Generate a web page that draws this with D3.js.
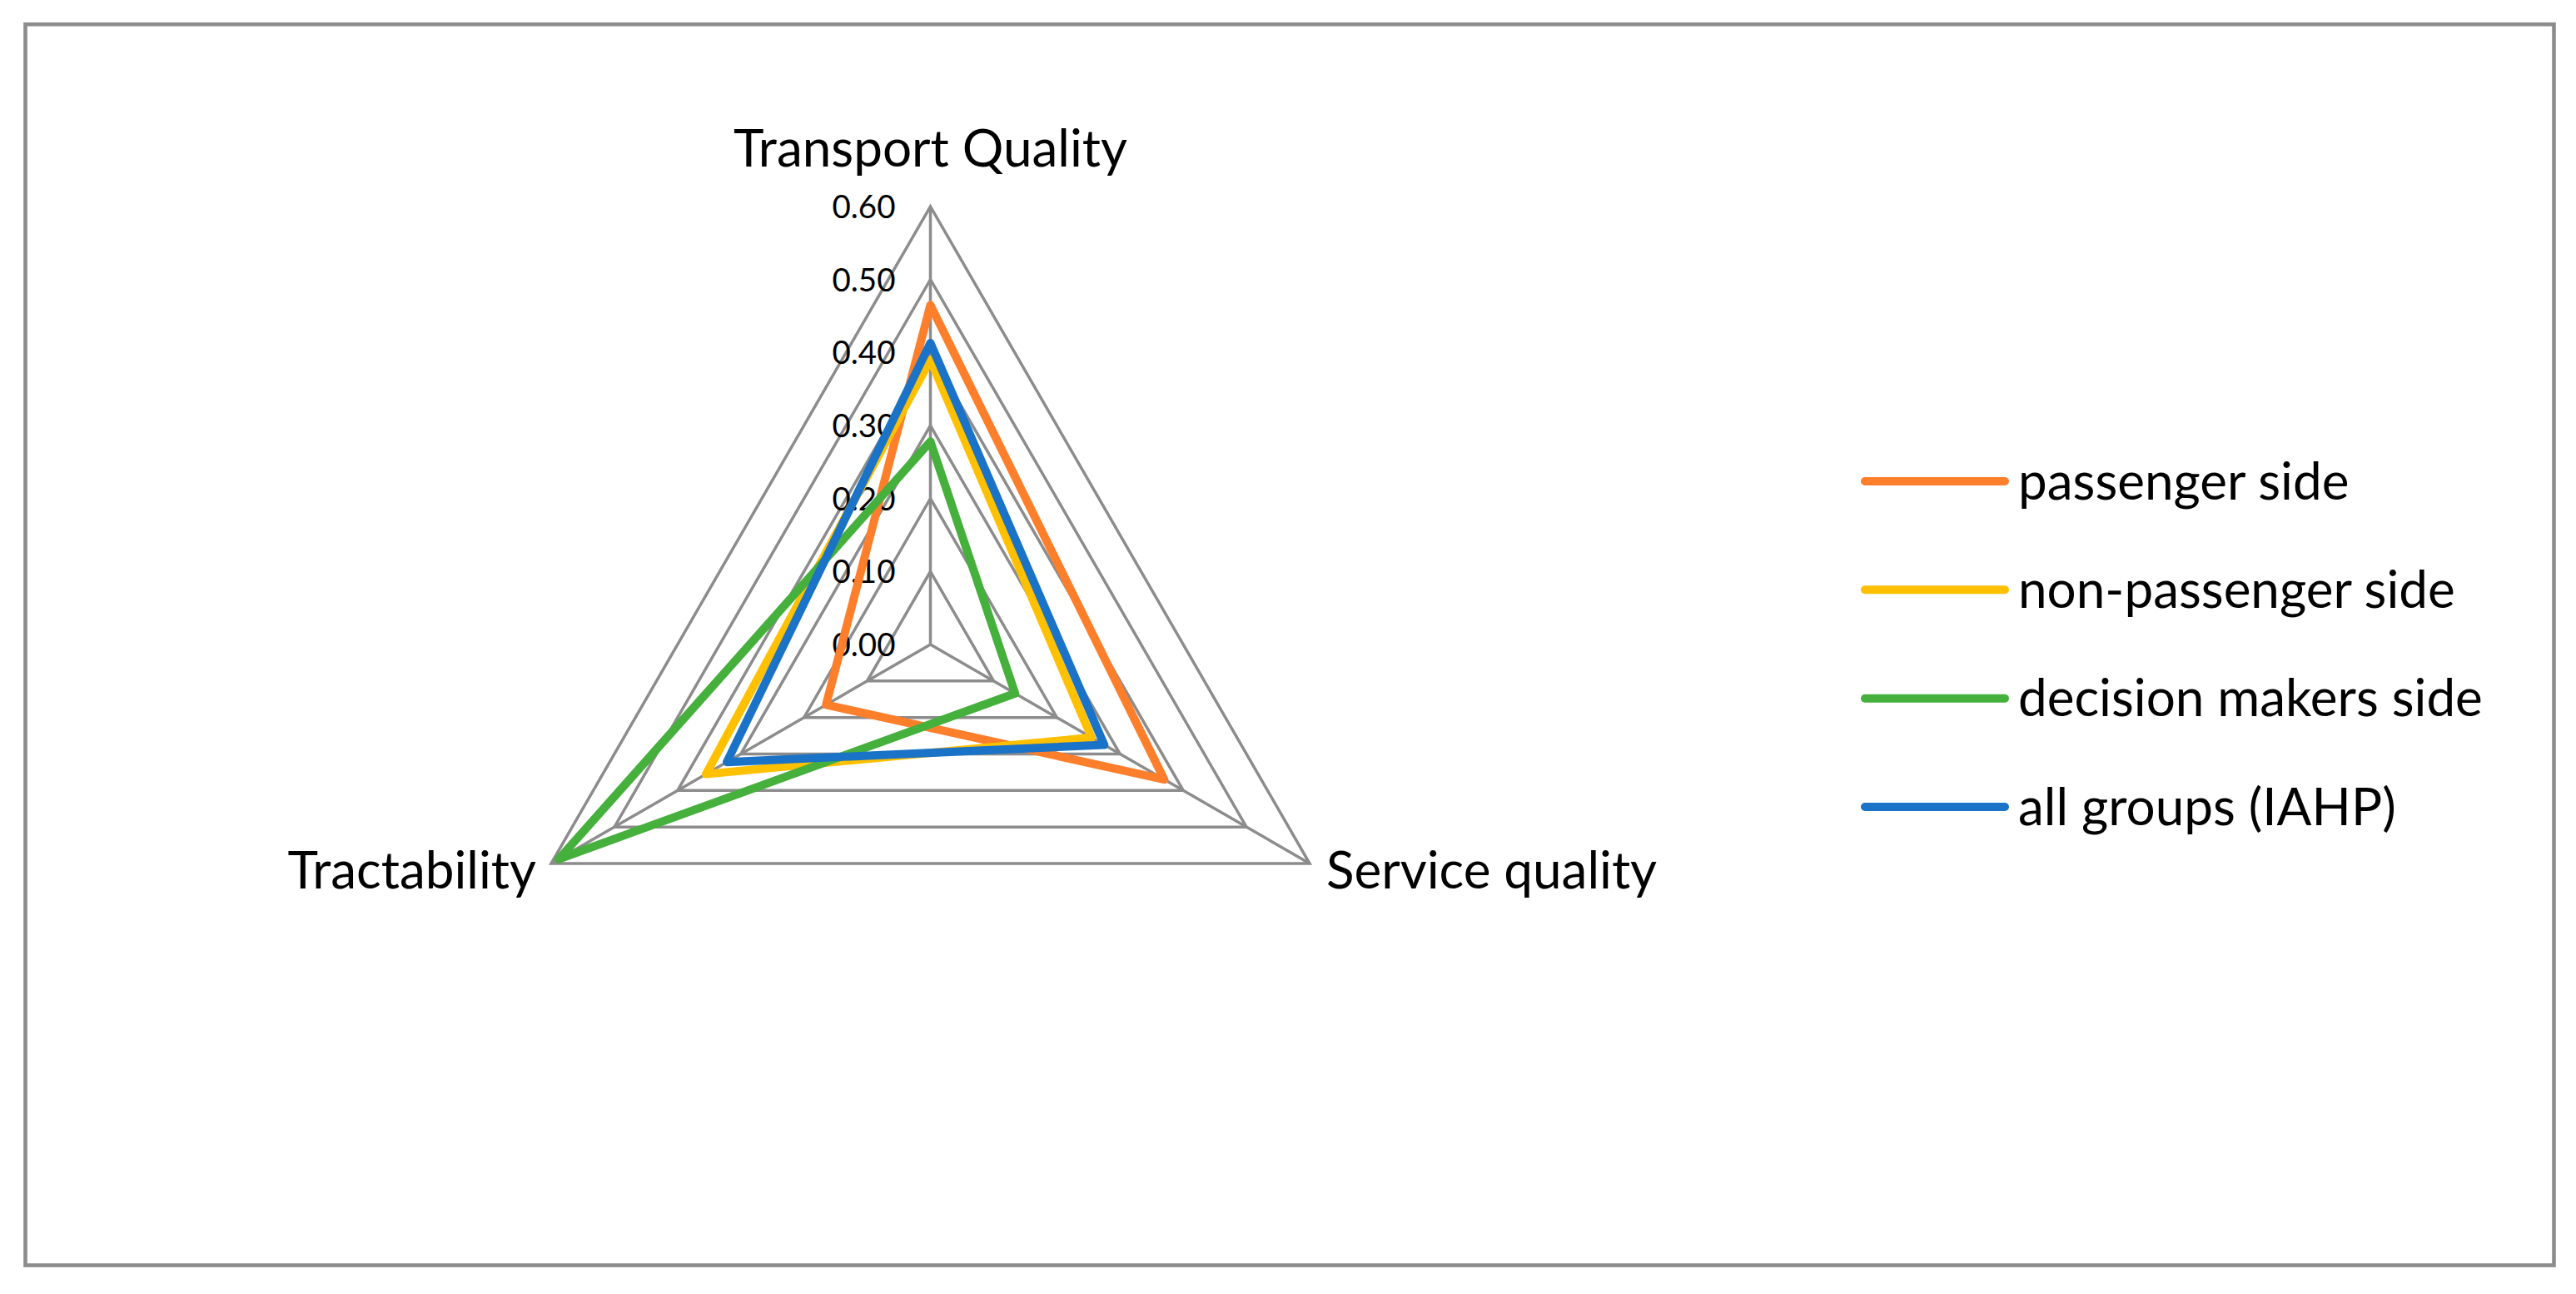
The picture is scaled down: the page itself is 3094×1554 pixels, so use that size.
<!DOCTYPE html>
<html>
<head>
<meta charset="utf-8">
<script src="https://cdn.jsdelivr.net/npm/d3@7"></script>
<style>
  html, body { margin: 0; padding: 0; background: #ffffff; }
  svg { display: block; }
  text { font-family: Lato, "Open Sans", sans-serif; fill: #000; }
</style>
</head>
<body>
<svg id="chart" width="3094" height="1554"></svg>
<script>
// ---- data ----
const categories = ["Transport Quality", "Service quality", "Tractability"];
const seriesNames = ["passenger side", "non-passenger side", "decision makers side", "all groups (IAHP)"];
const passengerSide    = [0.465, 0.370, 0.165];
const nonPassengerSide = [0.390, 0.255, 0.355];
const decisionMakers   = [0.278, 0.134, 0.588];
const allGroups        = [0.413, 0.275, 0.322];
const tickValues = [0.00, 0.10, 0.20, 0.30, 0.40, 0.50, 0.60];
const seriesColors = ["#FE7F2B", "#FFC000", "#45B03B", "#1A73C6"];

const seriesValues = [passengerSide, nonPassengerSide, decisionMakers, allGroups];

// ---- layout ----
const cx = 1117.5, cy = 774, R = 526;
const gridColor = "#8c8c8c";

const svg = d3.select("#chart");

// outer frame
svg.append("rect")
  .attr("x", 30.5).attr("y", 29.2)
  .attr("width", 3037).attr("height", 1490.3)
  .attr("fill", "#fff")
  .attr("stroke", gridColor)
  .attr("stroke-width", 4.6);

const r = d3.scaleLinear().domain([0, 0.6]).range([0, R]);
const angle = d3.scalePoint().domain(categories).range([0, 2 * Math.PI * (categories.length - 1) / categories.length]);

const g = svg.append("g").attr("transform", `translate(${cx},${cy})`);

function pt(cat, v) {
  const a = angle(cat) - Math.PI / 2;
  return [r(v) * Math.cos(a), r(v) * Math.sin(a)];
}

// grid rings
const ringLine = d3.line().curve(d3.curveLinearClosed);
g.append("g").selectAll("path")
  .data(tickValues.filter(t => t > 0))
  .join("path")
  .attr("d", t => ringLine(categories.map(c => pt(c, t))))
  .attr("fill", "none")
  .attr("stroke", gridColor)
  .attr("stroke-width", 3.5)
  .attr("stroke-linejoin", "miter");

// spokes
g.append("g").selectAll("line")
  .data(categories)
  .join("line")
  .attr("x1", 0).attr("y1", 0)
  .attr("x2", c => pt(c, 0.6)[0])
  .attr("y2", c => pt(c, 0.6)[1])
  .attr("stroke", gridColor)
  .attr("stroke-width", 3.5);

// tick labels (along top spoke)
g.append("g").selectAll("text")
  .data(tickValues)
  .join("text")
  .attr("x", -42)
  .attr("y", t => -r(t))
  .attr("dy", "0.36em")
  .attr("text-anchor", "end")
  .attr("font-size", 38.5)
  .text(d3.format(".2f"));

// series
const seriesLine = d3.line().curve(d3.curveLinearClosed);
g.append("g").selectAll("path")
  .data(seriesValues)
  .join("path")
  .attr("d", vals => seriesLine(categories.map((c, i) => pt(c, vals[i]))))
  .attr("fill", "none")
  .attr("stroke", (d, i) => seriesColors[i])
  .attr("stroke-width", 10)
  .attr("stroke-linejoin", "round")
  .attr("stroke-linecap", "round");

// category labels
const catFont = 62;
g.append("text")
  .attr("x", 0).attr("y", 200 - cy)
  .attr("text-anchor", "middle")
  .attr("font-size", catFont)
  .text(categories[0]);
g.append("text")
  .attr("x", 1593 - cx).attr("y", 1067 - cy)
  .attr("text-anchor", "start")
  .attr("font-size", catFont)
  .text(categories[1]);
g.append("text")
  .attr("x", 644 - cx).attr("y", 1067 - cy)
  .attr("text-anchor", "end")
  .attr("font-size", catFont)
  .text(categories[2]);

// legend
const legendY = d3.scalePoint().domain(seriesNames).range([578, 969]);
const lg = svg.append("g").selectAll("g")
  .data(seriesNames)
  .join("g")
  .attr("transform", d => `translate(0,${legendY(d)})`);
lg.append("line")
  .attr("x1", 2240).attr("x2", 2408)
  .attr("y1", 0).attr("y2", 0)
  .attr("stroke", (d, i) => seriesColors[i])
  .attr("stroke-width", 10)
  .attr("stroke-linecap", "round");
lg.append("text")
  .attr("x", 2424).attr("y", 0)
  .attr("dy", "0.35em")
  .attr("font-size", 62)
  .text(d => d);
</script>
</body>
</html>
